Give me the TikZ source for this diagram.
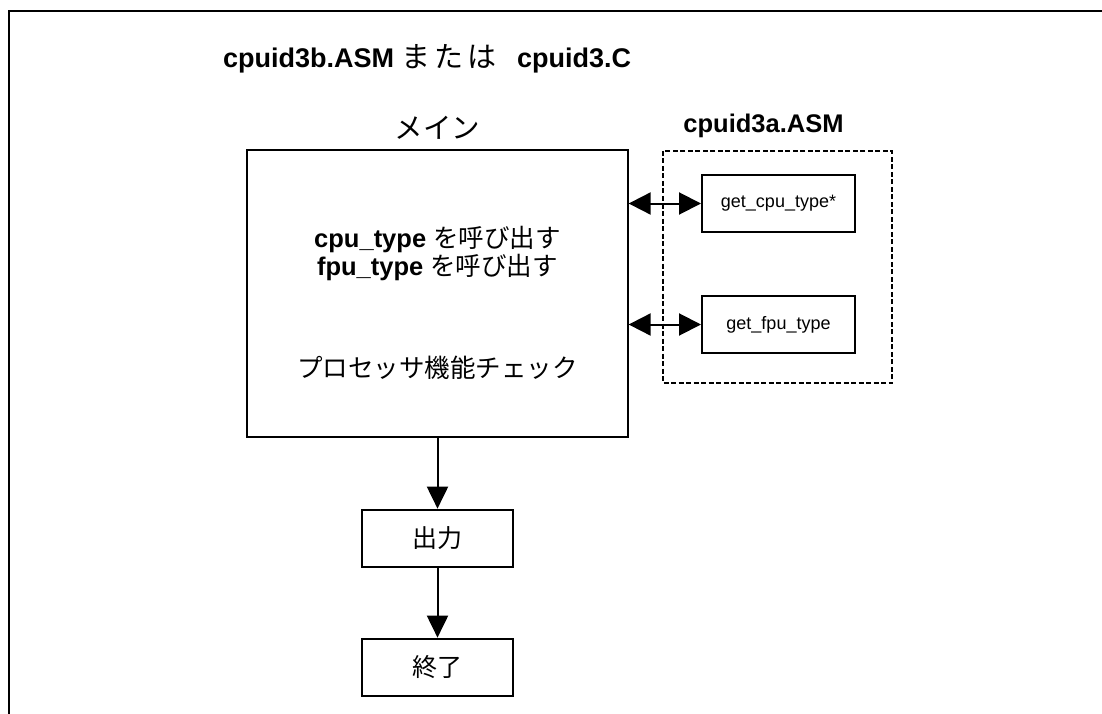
\documentclass[tikz,border=0pt]{standalone}
\usepackage{fontspec}
\setmainfont{Liberation Sans}
\newfontfamily\jpfont{Noto Sans CJK JP}
\usetikzlibrary{arrows.meta,positioning}

\begin{document}
\begin{tikzpicture}[x=1pt, y=-1pt,
  title/.style={font=\fontsize{25.5}{30}\selectfont\bfseries, inner sep=0pt},
  mainbox/.style={draw, line width=1.3pt, minimum width=381pt, minimum height=287pt, inner sep=0pt},
  funcbox/.style={draw, line width=2pt, minimum width=153pt, minimum height=57pt, inner sep=0pt, font=\fontsize{18}{21}\selectfont},
  stepbox/.style={draw, line width=2pt, minimum width=151pt, minimum height=57pt, inner sep=0pt, font=\fontsize{25}{30}\selectfont\jpfont},
  body/.style={align=center, inner sep=0pt, font=\fontsize{25.5}{27.5}\selectfont},
  module/.style={draw, line width=1.7pt, dash pattern=on 5pt off 2.5pt},
  flow/.style={-{Triangle[length=22pt, width=21pt]}, line width=2pt},
  link/.style={{Triangle[length=22pt, width=22pt]}-{Triangle[length=22pt, width=22pt]}, line width=2pt}]
\useasboundingbox (0,0) rectangle (1102,714);
% frame
\draw[line width=2.2pt] (9,714) -- (9,11) -- (1102,11);
\node[title, font=\fontsize{27}{30}\selectfont\bfseries, anchor=base west] (file) at (223,68)
  {cpuid3b.ASM {\jpfont\mdseries\fontsize{29}{32}\selectfont ま\hspace{4pt}た\hspace{4pt}は}\hspace{13pt} cpuid3.C};
\node[mainbox] (main) at (437.5,293.5) {};
\node[font=\fontsize{28.5}{30}\selectfont\jpfont, inner sep=0pt, anchor=base] (mainlabel) at (437.5,139) {メイン};
\node[body] (calls) at (437.5,253.5) {\textbf{cpu\_type} {\jpfont を呼び出す}\\\textbf{fpu\_type} {\jpfont を呼び出す}};
\node[body, font=\fontsize{25.5}{28}\selectfont\jpfont] (check) at (437.5,368) {プロセッサ機能チェック};
% cpuid3a module
\draw[module] (663,151) rectangle (892,383);
\node[title, anchor=base] (modlabel) at (763.5,133) {cpuid3a.ASM};
\node[funcbox] (cpu) at (778.5,203.5) {get\_cpu\_type*};
\node[funcbox] (fpu) at (778.5,324.5) {get\_fpu\_type};
\node[stepbox, below=71pt of main] (out) {出力};
\node[stepbox, below=70pt of out] (stop) {終了};
\draw[link] (cpu.west -| main.east) -- (cpu.west);
\draw[link] (fpu.west -| main.east) -- (fpu.west);
\draw[flow] (main) -- (out);
\draw[flow] (out) -- (stop);
\end{tikzpicture}
\end{document}
